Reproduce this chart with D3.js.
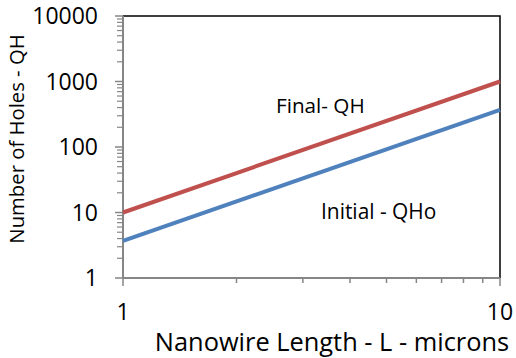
<!DOCTYPE html>
<html>
<head>
<meta charset="utf-8">
<script src="https://cdn.jsdelivr.net/npm/d3@7"></script>
<style>
  body { margin: 0; background: #fff; }
  text { font-family: "Open Sans", sans-serif; fill: #000; }
</style>
</head>
<body>
<div id="chart"></div>
<script>
// data
const lengths = [1, 10];            // nanowire length, microns
const finalQH = [10, 1000];         // Final- QH
const initialQHo = [3.7, 370];      // Initial - QHo
const yTicks = [1, 10, 100, 1000, 10000];
const xTicks = [1, 10];

const svgWidth = 516;
const svgHeight = 358;
const margin = { top: 16, right: 16, bottom: 80, left: 123 };
const width = svgWidth - margin.left - margin.right;
const height = svgHeight - margin.top - margin.bottom;

const svg = d3.select("#chart")
  .append("svg")
  .attr("width", svgWidth)
  .attr("height", svgHeight);

const g = svg.append("g")
  .attr("transform", `translate(${margin.left},${margin.top})`);

const x = d3.scaleLog().domain([1, 10]).range([0, width]);
const y = d3.scaleLog().domain([1, 10000]).range([height, 0]);

// minor tick values (2..9 per decade)
const xMinor = d3.range(2, 10);
const yMinor = [];
for (let d = 1; d < 10000; d *= 10) {
  for (let k = 2; k < 10; k++) yMinor.push(d * k);
}

const axisColor = "#868686";

// plot area border (top and right)
g.append("path")
  .attr("d", `M0,0H${width}V${height}`)
  .attr("fill", "none")
  .attr("stroke", "#000")
  .attr("stroke-width", 1.5);

// y axis
const yAxis = g.append("g").attr("class", "y-axis");
yAxis.append("line")
  .attr("x1", 0).attr("x2", 0)
  .attr("y1", 0).attr("y2", height)
  .attr("stroke", axisColor).attr("stroke-width", 2);
yAxis.selectAll(".minor")
  .data(yMinor)
  .enter().append("line")
  .attr("x1", -6).attr("x2", 0)
  .attr("y1", d => y(d)).attr("y2", d => y(d))
  .attr("stroke", axisColor).attr("stroke-width", 1.2);
yAxis.selectAll(".major")
  .data(yTicks)
  .enter().append("line")
  .attr("x1", -8).attr("x2", 0)
  .attr("y1", d => y(d)).attr("y2", d => y(d))
  .attr("stroke", axisColor).attr("stroke-width", 1.5);
yAxis.selectAll(".label")
  .data(yTicks)
  .enter().append("text")
  .attr("x", -25)
  .attr("y", d => y(d))
  .attr("dy", "0.36em")
  .attr("text-anchor", "end")
  .style("font-size", "23px")
  .text(d => d);

// x axis
const xAxis = g.append("g").attr("class", "x-axis")
  .attr("transform", `translate(0,${height})`);
xAxis.append("line")
  .attr("x1", 0).attr("x2", width)
  .attr("stroke", axisColor).attr("stroke-width", 2);
xAxis.selectAll(".minor")
  .data(xMinor)
  .enter().append("line")
  .attr("x1", d => x(d)).attr("x2", d => x(d))
  .attr("y1", 0).attr("y2", 5)
  .attr("stroke", axisColor).attr("stroke-width", 1.5);
xAxis.selectAll(".major")
  .data(xTicks)
  .enter().append("line")
  .attr("x1", d => x(d)).attr("x2", d => x(d))
  .attr("y1", 0).attr("y2", 8)
  .attr("stroke", axisColor).attr("stroke-width", 1.5);
xAxis.selectAll(".label")
  .data(xTicks)
  .enter().append("text")
  .attr("x", d => x(d))
  .attr("y", 42)
  .attr("text-anchor", "middle")
  .style("font-size", "23px")
  .text(d => d);

// axis titles
svg.append("text")
  .attr("x", 332)
  .attr("y", 351)
  .attr("text-anchor", "middle")
  .style("font-size", "25.4px")
  .text("Nanowire Length - L - microns");

svg.append("text")
  .attr("transform", "rotate(-90)")
  .attr("x", -139)
  .attr("y", 24)
  .attr("text-anchor", "middle")
  .style("font-size", "20.3px")
  .text("Number of Holes - QH");

// lines
const line = d3.line()
  .x(d => x(d[0]))
  .y(d => y(d[1]));

const series = [
  { name: "Initial - QHo", values: initialQHo, color: "#4F81BD" },
  { name: "Final- QH", values: finalQH, color: "#C0504D" }
];

g.selectAll(".series")
  .data(series)
  .enter().append("path")
  .attr("class", "series")
  .attr("fill", "none")
  .attr("stroke", d => d.color)
  .attr("stroke-width", 4)
  .attr("d", d => line(lengths.map((l, i) => [l, d.values[i]])));

// series labels
svg.append("text")
  .attr("x", 276)
  .attr("y", 113)
  .style("font-size", "20.7px")
  .text("Final- QH");

svg.append("text")
  .attr("x", 321)
  .attr("y", 219)
  .style("font-size", "20.9px")
  .text("Initial - QHo");
</script>
</body>
</html>
